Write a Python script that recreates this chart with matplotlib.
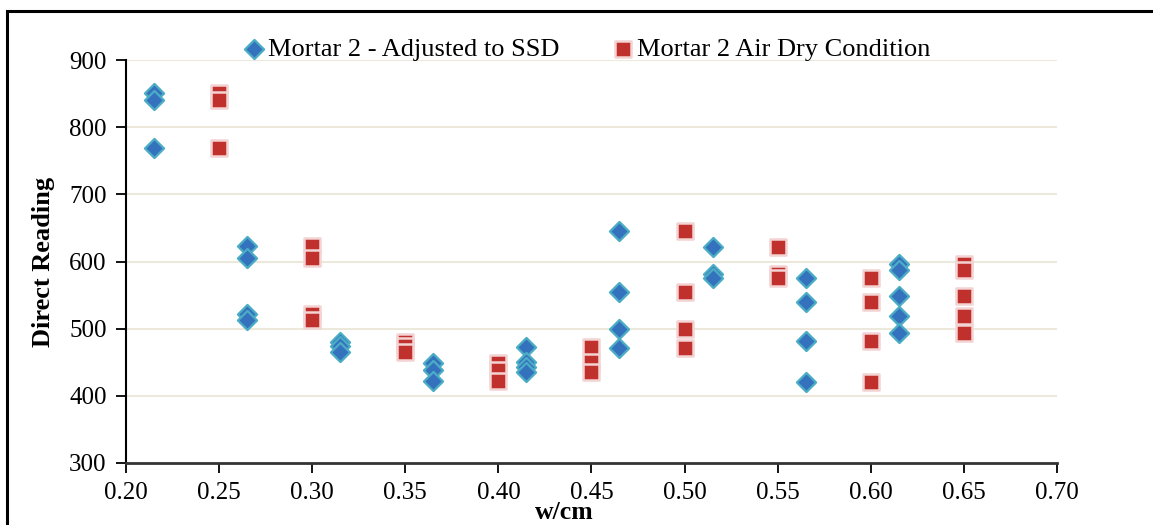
import matplotlib.pyplot as plt
from matplotlib.patches import Rectangle

plt.rcParams['font.family'] = ['Liberation Serif', 'DejaVu Serif']

# Mortar 2 - adjusted to SSD
ssd_x = [0.215, 0.215, 0.215,
         0.265, 0.265, 0.265, 0.265,
         0.315, 0.315, 0.315,
         0.365, 0.365, 0.365,
         0.415, 0.415, 0.415, 0.415,
         0.465, 0.465, 0.465, 0.465,
         0.515, 0.515, 0.515,
         0.565, 0.565, 0.565, 0.565,
         0.615, 0.615, 0.615, 0.615, 0.615]
ssd_y = [851, 841, 769,
         623, 605, 522, 513,
         480, 474, 466,
         449, 438, 422,
         473, 451, 443, 435,
         646, 555, 499, 471,
         622, 581, 576,
         575, 539, 481, 420,
         597, 587, 548, 519, 493]

# Mortar 2 air dry condition
air_x = [0.25, 0.25, 0.25,
         0.30, 0.30, 0.30, 0.30,
         0.35, 0.35, 0.35,
         0.40, 0.40, 0.40,
         0.45, 0.45, 0.45,
         0.50, 0.50, 0.50, 0.50,
         0.55, 0.55, 0.55,
         0.60, 0.60, 0.60, 0.60,
         0.65, 0.65, 0.65, 0.65, 0.65]
air_y = [851, 841, 769,
         623, 605, 522, 513,
         480, 474, 466,
         449, 438, 422,
         473, 451, 435,
         646, 555, 499, 471,
         622, 581, 576,
         575, 539, 481, 420,
         597, 587, 548, 519, 493]

x_ticks = [0.20, 0.25, 0.30, 0.35, 0.40, 0.45, 0.50, 0.55, 0.60, 0.65, 0.70]
y_ticks = [300, 400, 500, 600, 700, 800, 900]

fig = plt.figure(figsize=(11.53, 5.25), dpi=100)
ax = fig.add_axes([0.1093, 0.1181, 0.8074, 0.7676])

ax.scatter(ssd_x, ssd_y, marker='D', s=95, color='#3572bd', edgecolors='#4bacc6',
           linewidths=1.6, zorder=3, label='Mortar 2 - Adjusted to SSD')
ax.scatter(air_x, air_y, marker='s', s=120, color='#c0302d', edgecolors='#f3d3d3',
           linewidths=1.8, zorder=3, label='Mortar 2 Air Dry Condition')

ax.set_xlim(0.20, 0.70)
ax.set_ylim(300, 900)
ax.set_xticks(x_ticks)
ax.set_xticklabels(['%.2f' % t for t in x_ticks])
ax.set_yticks(y_ticks)
ax.tick_params(labelsize=18, direction='out', length=7, width=1.3, colors='black')
ax.tick_params(axis='x', pad=7)
ax.tick_params(axis='y', pad=7)

for yv in y_ticks[1:]:
    ax.axhline(yv, color='#ece9dc', lw=1.5, zorder=1)

ax.spines['top'].set_visible(False)
ax.spines['right'].set_visible(False)
ax.spines['left'].set_linewidth(1.5)
ax.spines['bottom'].set_linewidth(2.0)
ax.spines['bottom'].set_color('#333333')

ax.set_ylabel('Direct Reading', fontsize=19, fontweight='bold', labelpad=10)
fig.text(0.489, 0.001, 'w/cm', fontsize=18.5, fontweight='bold', ha='center', va='bottom')

leg = fig.legend(loc='center', bbox_to_anchor=(0.509, 0.907), ncol=2, frameon=False,
                 fontsize=19, handlelength=0.8, handletextpad=0.15, columnspacing=2.0,
                 borderpad=0, borderaxespad=0)

# outer frame of the chart
fig.patches.append(Rectangle((0.0065, -0.1), 1.1, 1.079, transform=fig.transFigure,
                             fill=False, edgecolor='black', lw=2.2))

fig.savefig('out.png', dpi=100)
